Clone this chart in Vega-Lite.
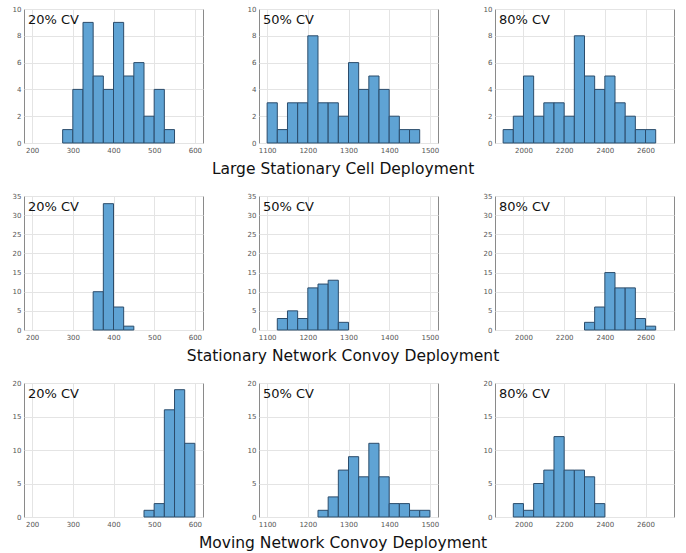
{
"$schema":"https://vega.github.io/schema/vega-lite/v6.json",
"padding":{"left":11,"top":4,"right":5,"bottom":0},
"background":"white",
"datasets":{"h":[
{"dep":"L","cv":20,"x0":275,"x1":300,"n":1},{"dep":"L","cv":20,"x0":300,"x1":325,"n":4},{"dep":"L","cv":20,"x0":325,"x1":350,"n":9},{"dep":"L","cv":20,"x0":350,"x1":375,"n":5},{"dep":"L","cv":20,"x0":375,"x1":400,"n":4},{"dep":"L","cv":20,"x0":400,"x1":425,"n":9},{"dep":"L","cv":20,"x0":425,"x1":450,"n":5},{"dep":"L","cv":20,"x0":450,"x1":475,"n":6},{"dep":"L","cv":20,"x0":475,"x1":500,"n":2},{"dep":"L","cv":20,"x0":500,"x1":525,"n":4},{"dep":"L","cv":20,"x0":525,"x1":550,"n":1},
{"dep":"L","cv":50,"x0":1100,"x1":1125,"n":3},{"dep":"L","cv":50,"x0":1125,"x1":1150,"n":1},{"dep":"L","cv":50,"x0":1150,"x1":1175,"n":3},{"dep":"L","cv":50,"x0":1175,"x1":1200,"n":3},{"dep":"L","cv":50,"x0":1200,"x1":1225,"n":8},{"dep":"L","cv":50,"x0":1225,"x1":1250,"n":3},{"dep":"L","cv":50,"x0":1250,"x1":1275,"n":3},{"dep":"L","cv":50,"x0":1275,"x1":1300,"n":2},{"dep":"L","cv":50,"x0":1300,"x1":1325,"n":6},{"dep":"L","cv":50,"x0":1325,"x1":1350,"n":4},{"dep":"L","cv":50,"x0":1350,"x1":1375,"n":5},{"dep":"L","cv":50,"x0":1375,"x1":1400,"n":4},{"dep":"L","cv":50,"x0":1400,"x1":1425,"n":2},{"dep":"L","cv":50,"x0":1425,"x1":1450,"n":1},{"dep":"L","cv":50,"x0":1450,"x1":1475,"n":1},
{"dep":"L","cv":80,"x0":1900,"x1":1950,"n":1},{"dep":"L","cv":80,"x0":1950,"x1":2000,"n":2},{"dep":"L","cv":80,"x0":2000,"x1":2050,"n":5},{"dep":"L","cv":80,"x0":2050,"x1":2100,"n":2},{"dep":"L","cv":80,"x0":2100,"x1":2150,"n":3},{"dep":"L","cv":80,"x0":2150,"x1":2200,"n":3},{"dep":"L","cv":80,"x0":2200,"x1":2250,"n":2},{"dep":"L","cv":80,"x0":2250,"x1":2300,"n":8},{"dep":"L","cv":80,"x0":2300,"x1":2350,"n":5},{"dep":"L","cv":80,"x0":2350,"x1":2400,"n":4},{"dep":"L","cv":80,"x0":2400,"x1":2450,"n":5},{"dep":"L","cv":80,"x0":2450,"x1":2500,"n":3},{"dep":"L","cv":80,"x0":2500,"x1":2550,"n":2},{"dep":"L","cv":80,"x0":2550,"x1":2600,"n":1},{"dep":"L","cv":80,"x0":2600,"x1":2650,"n":1},
{"dep":"S","cv":20,"x0":350,"x1":375,"n":10},{"dep":"S","cv":20,"x0":375,"x1":400,"n":33},{"dep":"S","cv":20,"x0":400,"x1":425,"n":6},{"dep":"S","cv":20,"x0":425,"x1":450,"n":1},
{"dep":"S","cv":50,"x0":1125,"x1":1150,"n":3},{"dep":"S","cv":50,"x0":1150,"x1":1175,"n":5},{"dep":"S","cv":50,"x0":1175,"x1":1200,"n":3},{"dep":"S","cv":50,"x0":1200,"x1":1225,"n":11},{"dep":"S","cv":50,"x0":1225,"x1":1250,"n":12},{"dep":"S","cv":50,"x0":1250,"x1":1275,"n":13},{"dep":"S","cv":50,"x0":1275,"x1":1300,"n":2},
{"dep":"S","cv":80,"x0":2300,"x1":2350,"n":2},{"dep":"S","cv":80,"x0":2350,"x1":2400,"n":6},{"dep":"S","cv":80,"x0":2400,"x1":2450,"n":15},{"dep":"S","cv":80,"x0":2450,"x1":2500,"n":11},{"dep":"S","cv":80,"x0":2500,"x1":2550,"n":11},{"dep":"S","cv":80,"x0":2550,"x1":2600,"n":3},{"dep":"S","cv":80,"x0":2600,"x1":2650,"n":1},
{"dep":"M","cv":20,"x0":475,"x1":500,"n":1},{"dep":"M","cv":20,"x0":500,"x1":525,"n":2},{"dep":"M","cv":20,"x0":525,"x1":550,"n":16},{"dep":"M","cv":20,"x0":550,"x1":575,"n":19},{"dep":"M","cv":20,"x0":575,"x1":600,"n":11},
{"dep":"M","cv":50,"x0":1225,"x1":1250,"n":1},{"dep":"M","cv":50,"x0":1250,"x1":1275,"n":3},{"dep":"M","cv":50,"x0":1275,"x1":1300,"n":7},{"dep":"M","cv":50,"x0":1300,"x1":1325,"n":9},{"dep":"M","cv":50,"x0":1325,"x1":1350,"n":6},{"dep":"M","cv":50,"x0":1350,"x1":1375,"n":11},{"dep":"M","cv":50,"x0":1375,"x1":1400,"n":6},{"dep":"M","cv":50,"x0":1400,"x1":1425,"n":2},{"dep":"M","cv":50,"x0":1425,"x1":1450,"n":2},{"dep":"M","cv":50,"x0":1450,"x1":1475,"n":1},{"dep":"M","cv":50,"x0":1475,"x1":1500,"n":1},
{"dep":"M","cv":80,"x0":1950,"x1":2000,"n":2},{"dep":"M","cv":80,"x0":2000,"x1":2050,"n":1},{"dep":"M","cv":80,"x0":2050,"x1":2100,"n":5},{"dep":"M","cv":80,"x0":2100,"x1":2150,"n":7},{"dep":"M","cv":80,"x0":2150,"x1":2200,"n":12},{"dep":"M","cv":80,"x0":2200,"x1":2250,"n":7},{"dep":"M","cv":80,"x0":2250,"x1":2300,"n":7},{"dep":"M","cv":80,"x0":2300,"x1":2350,"n":6},{"dep":"M","cv":80,"x0":2350,"x1":2400,"n":2}
]},
"vconcat":[
{"title":{"text":"Large Stationary Cell Deployment","orient":"bottom","anchor":"middle","offset":8},"spacing":42,"hconcat":[
{"width":179,"height":134,"layer":[
{"data":{"name":"h"},"transform":[{"filter":"datum.dep==='L' && datum.cv===20"}],"mark":{"type":"bar","fill":"#5fa3d4","stroke":"#2b4c6b","strokeWidth":1},
"encoding":{"x":{"field":"x0","type":"quantitative","title":null,"scale":{"domain":[180,620],"nice":false},"axis":{"values":[200,300,400,500,600]}},"x2":{"field":"x1"},"y":{"field":"n","type":"quantitative","title":null,"scale":{"domain":[0,10],"nice":false},"axis":{"values":[0,2,4,6,8,10]}},"y2":{"datum":0}}},
{"data":{"values":[{"t":"20% CV"}]},"mark":{"type":"text","align":"left","baseline":"top","fontSize":13,"dx":4,"dy":5},"encoding":{"text":{"field":"t"},"x":{"datum":180,"type":"quantitative","title":null,"axis":{"values":[200,300,400,500,600]}},"y":{"datum":10,"type":"quantitative","title":null,"axis":{"values":[0,2,4,6,8,10]}}}}]},
{"width":179,"height":134,"layer":[
{"data":{"name":"h"},"transform":[{"filter":"datum.dep==='L' && datum.cv===50"}],"mark":{"type":"bar","fill":"#5fa3d4","stroke":"#2b4c6b","strokeWidth":1},
"encoding":{"x":{"field":"x0","type":"quantitative","title":null,"scale":{"domain":[1080,1520],"nice":false},"axis":{"values":[1100,1200,1300,1400,1500]}},"x2":{"field":"x1"},"y":{"field":"n","type":"quantitative","title":null,"scale":{"domain":[0,10],"nice":false},"axis":{"values":[0,2,4,6,8,10]}},"y2":{"datum":0}}},
{"data":{"values":[{"t":"50% CV"}]},"mark":{"type":"text","align":"left","baseline":"top","fontSize":13,"dx":4,"dy":5},"encoding":{"text":{"field":"t"},"x":{"datum":1080,"type":"quantitative","title":null,"axis":{"values":[1100,1200,1300,1400,1500]}},"y":{"datum":10,"type":"quantitative","title":null,"axis":{"values":[0,2,4,6,8,10]}}}}]},
{"width":179,"height":134,"layer":[
{"data":{"name":"h"},"transform":[{"filter":"datum.dep==='L' && datum.cv===80"}],"mark":{"type":"bar","fill":"#5fa3d4","stroke":"#2b4c6b","strokeWidth":1},
"encoding":{"x":{"field":"x0","type":"quantitative","title":null,"scale":{"domain":[1860,2740],"nice":false},"axis":{"values":[2000,2200,2400,2600]}},"x2":{"field":"x1"},"y":{"field":"n","type":"quantitative","title":null,"scale":{"domain":[0,10],"nice":false},"axis":{"values":[0,2,4,6,8,10]}},"y2":{"datum":0}}},
{"data":{"values":[{"t":"80% CV"}]},"mark":{"type":"text","align":"left","baseline":"top","fontSize":13,"dx":4,"dy":5},"encoding":{"text":{"field":"t"},"x":{"datum":1860,"type":"quantitative","title":null,"axis":{"values":[2000,2200,2400,2600]}},"y":{"datum":10,"type":"quantitative","title":null,"axis":{"values":[0,2,4,6,8,10]}}}}]}
]},
{"title":{"text":"Stationary Network Convoy Deployment","orient":"bottom","anchor":"middle","offset":8},"spacing":42,"hconcat":[
{"width":179,"height":134,"layer":[
{"data":{"name":"h"},"transform":[{"filter":"datum.dep==='S' && datum.cv===20"}],"mark":{"type":"bar","fill":"#5fa3d4","stroke":"#2b4c6b","strokeWidth":1},
"encoding":{"x":{"field":"x0","type":"quantitative","title":null,"scale":{"domain":[180,620],"nice":false},"axis":{"values":[200,300,400,500,600]}},"x2":{"field":"x1"},"y":{"field":"n","type":"quantitative","title":null,"scale":{"domain":[0,35],"nice":false},"axis":{"values":[0,5,10,15,20,25,30,35]}},"y2":{"datum":0}}},
{"data":{"values":[{"t":"20% CV"}]},"mark":{"type":"text","align":"left","baseline":"top","fontSize":13,"dx":4,"dy":5},"encoding":{"text":{"field":"t"},"x":{"datum":180,"type":"quantitative","title":null,"axis":{"values":[200,300,400,500,600]}},"y":{"datum":35,"type":"quantitative","title":null,"axis":{"values":[0,5,10,15,20,25,30,35]}}}}]},
{"width":179,"height":134,"layer":[
{"data":{"name":"h"},"transform":[{"filter":"datum.dep==='S' && datum.cv===50"}],"mark":{"type":"bar","fill":"#5fa3d4","stroke":"#2b4c6b","strokeWidth":1},
"encoding":{"x":{"field":"x0","type":"quantitative","title":null,"scale":{"domain":[1080,1520],"nice":false},"axis":{"values":[1100,1200,1300,1400,1500]}},"x2":{"field":"x1"},"y":{"field":"n","type":"quantitative","title":null,"scale":{"domain":[0,35],"nice":false},"axis":{"values":[0,5,10,15,20,25,30,35]}},"y2":{"datum":0}}},
{"data":{"values":[{"t":"50% CV"}]},"mark":{"type":"text","align":"left","baseline":"top","fontSize":13,"dx":4,"dy":5},"encoding":{"text":{"field":"t"},"x":{"datum":1080,"type":"quantitative","title":null,"axis":{"values":[1100,1200,1300,1400,1500]}},"y":{"datum":35,"type":"quantitative","title":null,"axis":{"values":[0,5,10,15,20,25,30,35]}}}}]},
{"width":179,"height":134,"layer":[
{"data":{"name":"h"},"transform":[{"filter":"datum.dep==='S' && datum.cv===80"}],"mark":{"type":"bar","fill":"#5fa3d4","stroke":"#2b4c6b","strokeWidth":1},
"encoding":{"x":{"field":"x0","type":"quantitative","title":null,"scale":{"domain":[1860,2740],"nice":false},"axis":{"values":[2000,2200,2400,2600]}},"x2":{"field":"x1"},"y":{"field":"n","type":"quantitative","title":null,"scale":{"domain":[0,35],"nice":false},"axis":{"values":[0,5,10,15,20,25,30,35]}},"y2":{"datum":0}}},
{"data":{"values":[{"t":"80% CV"}]},"mark":{"type":"text","align":"left","baseline":"top","fontSize":13,"dx":4,"dy":5},"encoding":{"text":{"field":"t"},"x":{"datum":1860,"type":"quantitative","title":null,"axis":{"values":[2000,2200,2400,2600]}},"y":{"datum":35,"type":"quantitative","title":null,"axis":{"values":[0,5,10,15,20,25,30,35]}}}}]}
]},
{"title":{"text":"Moving Network Convoy Deployment","orient":"bottom","anchor":"middle","offset":8},"spacing":42,"hconcat":[
{"width":179,"height":134,"layer":[
{"data":{"name":"h"},"transform":[{"filter":"datum.dep==='M' && datum.cv===20"}],"mark":{"type":"bar","fill":"#5fa3d4","stroke":"#2b4c6b","strokeWidth":1},
"encoding":{"x":{"field":"x0","type":"quantitative","title":null,"scale":{"domain":[180,620],"nice":false},"axis":{"values":[200,300,400,500,600]}},"x2":{"field":"x1"},"y":{"field":"n","type":"quantitative","title":null,"scale":{"domain":[0,20],"nice":false},"axis":{"values":[0,5,10,15,20]}},"y2":{"datum":0}}},
{"data":{"values":[{"t":"20% CV"}]},"mark":{"type":"text","align":"left","baseline":"top","fontSize":13,"dx":4,"dy":5},"encoding":{"text":{"field":"t"},"x":{"datum":180,"type":"quantitative","title":null,"axis":{"values":[200,300,400,500,600]}},"y":{"datum":20,"type":"quantitative","title":null,"axis":{"values":[0,5,10,15,20]}}}}]},
{"width":179,"height":134,"layer":[
{"data":{"name":"h"},"transform":[{"filter":"datum.dep==='M' && datum.cv===50"}],"mark":{"type":"bar","fill":"#5fa3d4","stroke":"#2b4c6b","strokeWidth":1},
"encoding":{"x":{"field":"x0","type":"quantitative","title":null,"scale":{"domain":[1080,1520],"nice":false},"axis":{"values":[1100,1200,1300,1400,1500]}},"x2":{"field":"x1"},"y":{"field":"n","type":"quantitative","title":null,"scale":{"domain":[0,20],"nice":false},"axis":{"values":[0,5,10,15,20]}},"y2":{"datum":0}}},
{"data":{"values":[{"t":"50% CV"}]},"mark":{"type":"text","align":"left","baseline":"top","fontSize":13,"dx":4,"dy":5},"encoding":{"text":{"field":"t"},"x":{"datum":1080,"type":"quantitative","title":null,"axis":{"values":[1100,1200,1300,1400,1500]}},"y":{"datum":20,"type":"quantitative","title":null,"axis":{"values":[0,5,10,15,20]}}}}]},
{"width":179,"height":134,"layer":[
{"data":{"name":"h"},"transform":[{"filter":"datum.dep==='M' && datum.cv===80"}],"mark":{"type":"bar","fill":"#5fa3d4","stroke":"#2b4c6b","strokeWidth":1},
"encoding":{"x":{"field":"x0","type":"quantitative","title":null,"scale":{"domain":[1860,2740],"nice":false},"axis":{"values":[2000,2200,2400,2600]}},"x2":{"field":"x1"},"y":{"field":"n","type":"quantitative","title":null,"scale":{"domain":[0,20],"nice":false},"axis":{"values":[0,5,10,15,20]}},"y2":{"datum":0}}},
{"data":{"values":[{"t":"80% CV"}]},"mark":{"type":"text","align":"left","baseline":"top","fontSize":13,"dx":4,"dy":5},"encoding":{"text":{"field":"t"},"x":{"datum":1860,"type":"quantitative","title":null,"axis":{"values":[2000,2200,2400,2600]}},"y":{"datum":20,"type":"quantitative","title":null,"axis":{"values":[0,5,10,15,20]}}}}]}
]}
],
"spacing":14,
"config":{
"font":"DejaVu Sans",
"view":{"stroke":"#8a8a8a","strokeWidth":1},
"axis":{"labelFont":"DejaVu Sans","labelFontSize":7,"labelColor":"#555555","gridColor":"#e4e4e4","grid":true,"domain":false,"ticks":false,"labelPadding":3,"labelOverlap":false,"format":"d"},
"title":{"font":"DejaVu Sans","fontSize":15.5,"fontWeight":"normal","color":"#111111"},
"text":{"font":"DejaVu Sans","color":"#111111"}
}
}
